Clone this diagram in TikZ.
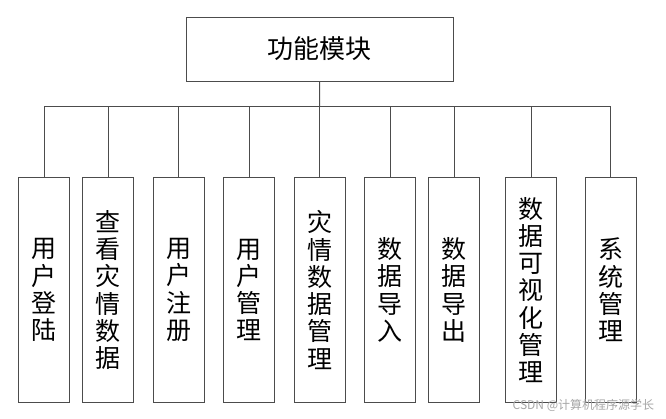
\documentclass[tikz,border=0pt]{standalone}
\usepackage{fontspec}
\setmainfont{Noto Sans CJK SC}

\newcommand{\busy}{106}
\newcommand{\rowy}{290}

\begin{document}
\begin{tikzpicture}[x=1pt, y=-1pt, line width=1pt,
    title/.style={draw=black!70, minimum width=267pt, minimum height=64pt, inner sep=0pt, font=\fontsize{26}{28}\selectfont},
    module/.style={draw=black!70, minimum width=51pt, minimum height=225pt, inner sep=0pt, align=center, font=\fontsize{25}{27.3}\selectfont},
    link/.style={draw=black!70}]
    \useasboundingbox (0,0) rectangle (666,418);

    % Top box.
    \node[title] (root) at (319.5,49) {功能模块};

    % Modules.
    \node[module] (login)  at (44   ,\rowy) {用\\户\\登\\陆};
    \node[module] (view)   at (108  ,\rowy) {查\\看\\灾\\情\\数\\据};
    \node[module] (reg)    at (178.7,\rowy) {用\\户\\注\\册};
    \node[module] (user)   at (249.2,\rowy) {用\\户\\管\\理};
    \node[module] (disas)  at (319.7,\rowy) {灾\\情\\数\\据\\管\\理};
    \node[module] (import) at (390.2,\rowy) {数\\据\\导\\入};
    \node[module] (export) at (454.2,\rowy) {数\\据\\导\\出};
    \node[module] (visual) at (531  ,\rowy) {数\\据\\可\\视\\化\\管\\理};
    \node[module] (system) at (610.7,\rowy) {系\\统\\管\\理};

    % Bus between top box and modules.
    \coordinate (bus) at (319.7,\busy);
    \draw[link] (root.south) -- (bus);
    \draw[link] (bus) -| (login.north);
    \draw[link] (bus) -| (view.north);
    \draw[link] (bus) -| (reg.north);
    \draw[link] (bus) -| (user.north);
    \draw[link] (bus) -- (disas.north);
    \draw[link] (bus) -| (import.north);
    \draw[link] (bus) -| (export.north);
    \draw[link] (bus) -| (visual.north);
    \draw[link] (bus) -| (system.north);

    % Watermark.
    \node[text=black!35, font=\fontsize{12}{12}\selectfont, anchor=east] (mark) at (658,405) {CSDN @计算机程序源学长};
\end{tikzpicture}
\end{document}
